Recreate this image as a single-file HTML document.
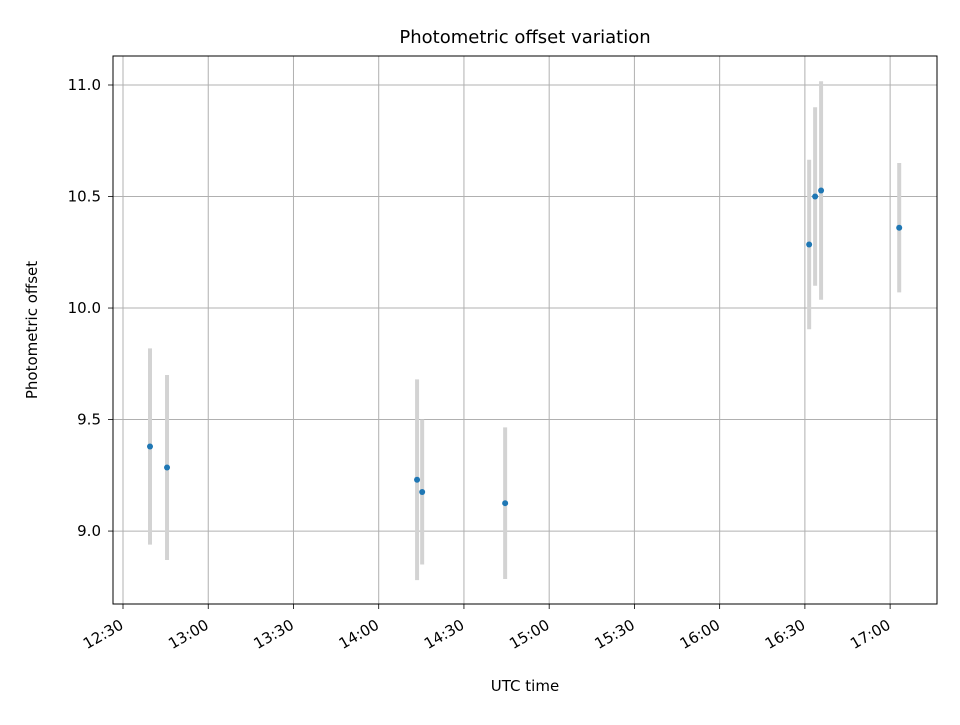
<!DOCTYPE html>
<html><head><meta charset="utf-8"><style>
body{margin:0;background:#fff;font-family:"Liberation Sans","DejaVu Sans",sans-serif}
svg text{font-family:"DejaVu Sans","Liberation Sans",sans-serif;fill:#000}
</style></head><body>
<svg id="chart" width="960" height="720" xmlns="http://www.w3.org/2000/svg"></svg>
<script>
const times = ["12:39.5","12:45.5","14:13.5","14:15.3","14:44.5","16:31.5","16:33.6","16:35.7","17:03.2"];
const offsets = [9.379,9.285,9.23,9.175,9.125,10.285,10.5,10.527,10.36];
const errors = [0.44,0.415,0.45,0.325,0.34,0.38,0.40,0.49,0.29];
const xTickLabels = ["12:30","13:00","13:30","14:00","14:30","15:00","15:30","16:00","16:30","17:00"];
const yTickValues = [9.0,9.5,10.0,10.5,11.0];

const L=113,R=937,T=56,B=604;
function mins(s){const [h,m]=s.split(":");return (+h)*60+parseFloat(m);}
const xMin=mins("12:26.48"), xMax=mins("17:16.5");
const yMin=8.673, yMax=11.13;
const xs=v=>L+(v-xMin)/(xMax-xMin)*(R-L);
const ys=v=>B-(v-yMin)/(yMax-yMin)*(B-T);
const svg=document.getElementById('chart');
const NS="http://www.w3.org/2000/svg";
function mk(tag,attrs,parent){const e=document.createElementNS(NS,tag);for(const k in attrs)e.setAttribute(k,attrs[k]);(parent||svg).appendChild(e);return e;}

const grid=mk('g',{});


xTickLabels.forEach(l=>{
  const x=xs(mins(l));
  const g=mk('line',{x1:x,x2:x,y1:T,y2:B,stroke:'#b0b0b0','stroke-width':1},grid);
  
  
  const t=mk('line',{x1:x,x2:x,y1:B,y2:B+5,stroke:'#000','stroke-width':0.8});
  
  
  const ax=x-3, ay=B+16;
  const tx=mk('text',{x:ax,y:ay,'font-size':15,'text-anchor':'end',transform:`rotate(-30 ${ax} ${ay})`,dy:'0.6em'});
  tx.textContent=l;
  
  
});
yTickValues.forEach(v=>{
  const y=ys(v);
  const g=mk('line',{x1:L,x2:R,y1:y,y2:y,stroke:'#b0b0b0','stroke-width':1},grid);
  
  
  const t=mk('line',{x1:L-5,x2:L,y1:y,y2:y,stroke:'#000','stroke-width':0.8});
  
  
  const tx=mk('text',{x:L-12,y:y+5,'font-size':15,'text-anchor':'end'});
  tx.textContent=v.toFixed(1);
  
  
});
times.forEach((t,i)=>{
  const x=xs(mins(t));
  const eb=mk('line',{x1:x,x2:x,y1:ys(offsets[i]+errors[i]),y2:ys(offsets[i]-errors[i]),stroke:'#d3d3d3','stroke-width':4});
  
  
});
times.forEach((t,i)=>{
  const p=mk('circle',{cx:xs(mins(t)),cy:ys(offsets[i]),r:3,fill:'#1f77b4'});
  
  
});
const frame=mk('rect',{x:L,y:T,width:R-L,height:B-T,fill:'none',stroke:'#000','stroke-width':1});


const title=mk('text',{x:(L+R)/2,y:43,'font-size':18,'text-anchor':'middle'});
title.textContent='Photometric offset variation';


const xt=mk('text',{x:(L+R)/2,y:691,'font-size':15,'text-anchor':'middle'});
xt.textContent='UTC time';


const yt=mk('text',{x:37,y:(T+B)/2,'font-size':15,'text-anchor':'middle',transform:`rotate(-90 37 ${(T+B)/2})`});
yt.textContent='Photometric offset';


</script>
</body></html>
